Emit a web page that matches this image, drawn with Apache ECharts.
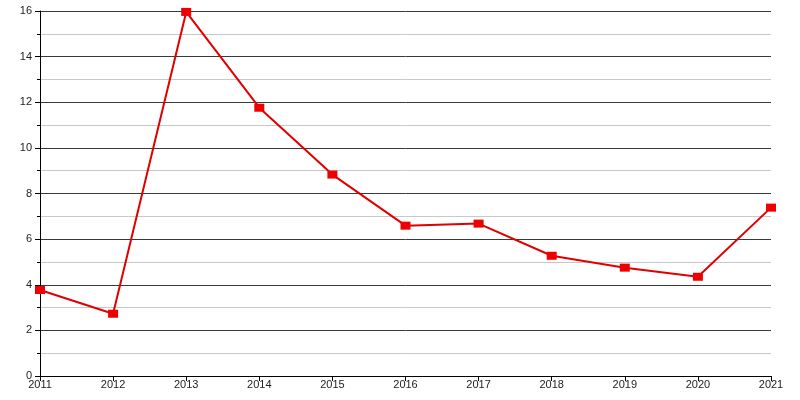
<!DOCTYPE html>
<html><head><meta charset="utf-8">
<script src="https://cdn.jsdelivr.net/npm/echarts@6/dist/echarts.min.js"></script>
<style>html,body{margin:0;padding:0;background:#fff}#c{width:800px;height:400px}</style>
</head><body><div id="c"></div>
<script>
const years = ['2011','2012','2013','2014','2015','2016','2017','2018','2019','2020','2021'];
const values = [3.77, 2.73, 15.96, 11.76, 8.83, 6.59, 6.68, 5.27, 4.75, 4.35, 7.38];

const chart = echarts.init(document.getElementById('c'), null, {renderer:'canvas'});
chart.setOption({
  animation: false,
  backgroundColor: '#fff',
  grid: {left: 40, right: 29, top: 11, bottom: 24},
  xAxis: {
    type: 'category', data: years, boundaryGap: false,
    axisLine: {lineStyle: {color: '#000', width: 1}},
    axisTick: {show: true, length: 5, inside: false, lineStyle: {color: '#000'}},
    axisLabel: {color: '#222', fontSize: 11, fontFamily: 'Liberation Sans', margin: 3},
    splitLine: {show: false}
  },
  yAxis: {
    type: 'value', min: 0, max: 16, interval: 2,
    axisLine: {show: true, lineStyle: {color: '#000', width: 1}},
    axisTick: {show: true, length: 5, lineStyle: {color: '#000'}},
    minorTick: {show: true, splitNumber: 2, length: 3, lineStyle: {color: '#000'}},
    axisLabel: {color: '#222', fontSize: 11, fontFamily: 'Liberation Sans', margin: 8},
    splitLine: {show: true, lineStyle: {color: '#3a3a3a', width: 1}},
    minorSplitLine: {show: true, lineStyle: {color: '#c8c8c8', width: 1}}
  },
  series: [{
    type: 'line', data: values,
    symbol: 'rect', symbolSize: [10, 8],
    lineStyle: {color: '#e00000', width: 2},
    itemStyle: {color: '#ee0000'}
  }]
});
</script></body></html>
